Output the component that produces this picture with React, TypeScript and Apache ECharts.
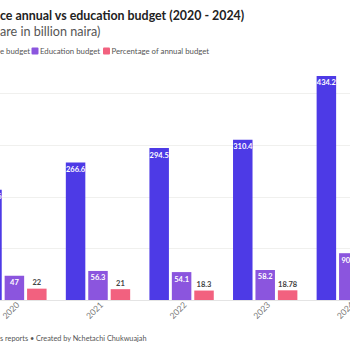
import React, { useEffect, useRef } from "react";
import * as echarts from "echarts";

const years = ["2020", "2021", "2022", "2023", "2024"];
const annualBudget = [213.6, 266.6, 294.5, 310.4, 434.2];
const educationBudget = [47, 56.3, 54.1, 58.2, 90.7];
const percentageOfAnnual = [22, 21, 18.3, 18.78, 20.9];

const titleText = "ce annual vs education budget (2020 - 2024)";
const subtitleText = "are in billion naira)";
const legendTexts = ["e budget", "Education budget", "Percentage of annual budget"];
const footerText = "s reports • Created by Nchetachi Chukwuajah";

const colors = ["#4d3ae6", "#8b55de", "#f2617f"];
const FONT = "Lato";
const OFF = 60; // chart canvas is shifted left by this much (cropped view)
const W = 480;

export default function App() {
  const ref = useRef<HTMLDivElement>(null);
  useEffect(() => {
    if (!ref.current) return;
    const chart = echarts.init(ref.current, undefined, { renderer: "svg" });
    const insideLabel = {
      show: true,
      position: "insideTop" as const,
      distance: 3,
      color: "#ffffff",
      fontFamily: FONT,
      fontWeight: "bold" as const,
      fontSize: 7.5,
    };
    const txt = (text: string, x: number, y: number, size: number, fill: string, bold = false) => ({
      type: "text",
      x: x + OFF,
      y,
      style: {
        text,
        fontFamily: FONT,
        fontWeight: bold ? "bold" : "normal",
        fontSize: size,
        fill,
        textVerticalAlign: "middle",
      },
    });
    chart.setOption({
      animation: false,
      textStyle: { fontFamily: FONT },
      grid: { left: OFF - 27.4, right: W - (OFF + 390.6), top: 93.6, bottom: 50, containLabel: false },
      xAxis: {
        type: "category",
        data: years,
        axisLine: { show: true, lineStyle: { color: "#e4e4e4", width: 1 } },
        axisTick: { show: false },
        axisLabel: {
          rotate: 45,
          margin: 7,
          padding: [0, -5, 0, 0],
          color: "#777",
          fontSize: 8.5,
          fontFamily: FONT,
        },
      },
      yAxis: {
        type: "value",
        min: 0,
        max: 400,
        interval: 100,
        axisLabel: { show: false },
        axisLine: { show: false },
        axisTick: { show: false },
        splitLine: { lineStyle: { color: "#f0f0ee", width: 1 } },
      },
      series: [
        {
          name: "Annual budget",
          type: "bar",
          data: annualBudget,
          barWidth: 19.5,
          barGap: "15%",
          clip: false,
          itemStyle: { color: colors[0] },
          label: insideLabel,
        },
        {
          name: "Education budget",
          type: "bar",
          data: educationBudget,
          barWidth: 19.5,
          barGap: "15%",
          clip: false,
          itemStyle: { color: colors[1] },
          label: insideLabel,
        },
        {
          name: "Percentage of annual budget",
          type: "bar",
          data: percentageOfAnnual,
          barWidth: 19.5,
          barGap: "15%",
          clip: false,
          itemStyle: { color: colors[2] },
          label: {
            show: true,
            position: "top",
            distance: 2,
            color: "#444",
            fontFamily: FONT,
            fontWeight: "bold",
            fontSize: 7.5,
          },
        },
      ],
      graphic: [
        txt(titleText, 0, 15.5, 12.4, "#222", true),
        txt(subtitleText, 0, 31, 12.6, "#555"),
        txt(legendTexts[0], 0, 51, 7.8, "#555"),
        {
          type: "rect",
          shape: { x: OFF + 31.5, y: 47.5, width: 7, height: 7, r: 1 },
          style: { fill: colors[1] },
        },
        txt(legendTexts[1], 40, 51, 7.8, "#555"),
        {
          type: "rect",
          shape: { x: OFF + 103, y: 47.5, width: 7, height: 7, r: 1 },
          style: { fill: colors[2] },
        },
        txt(legendTexts[2], 111.5, 51, 7.8, "#555"),
        txt(footerText, 0, 338, 7.3, "#555"),
      ],
    });
    return () => chart.dispose();
  }, []);
  return (
    <div
      style={{ position: "fixed", left: 0, top: 0, width: 350, height: 350, overflow: "hidden", background: "#fff" }}
    >
      <div ref={ref} style={{ position: "absolute", left: -OFF, top: 0, width: W, height: 350 }} />
    </div>
  );
}
